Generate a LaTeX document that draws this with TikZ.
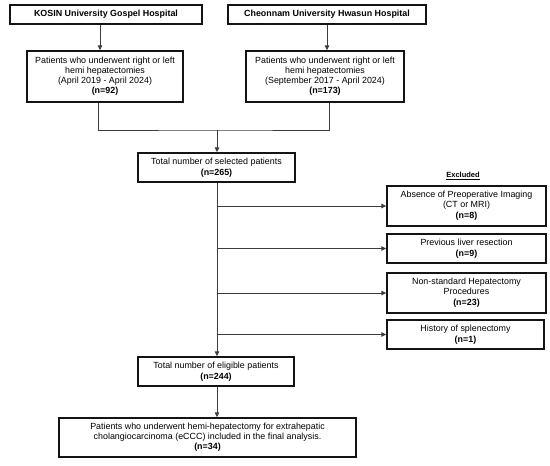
\documentclass[tikz,border=0pt]{standalone}
\usepackage{fontspec}
\setmainfont{Liberation Sans}
\usepackage{tikz}
\usetikzlibrary{arrows.meta,positioning}
\definecolor{boxline}{RGB}{20,20,20}
\definecolor{connline}{RGB}{60,60,60}

\begin{document}
\begin{tikzpicture}[
    x=1pt, y=-1pt,
    element/.style={draw=boxline, rectangle, line width=1.4pt, align=center, inner sep=1pt,
        font=\fontsize{8.9}{10}\selectfont},
    site/.style={element, minimum height=19pt, font=\fontsize{8.9}{10}\selectfont\bfseries},
    cohort/.style={element, minimum width=157pt},
    exclbox/.style={element, minimum width=159pt},
    line/.style={draw=connline, line width=0.9pt},
    arrow/.style={line, -{Triangle[length=5pt,width=4.5pt]}}
]
    \useasboundingbox (0,0) rectangle (550,466);

    % hospitals
    \node[site, minimum width=192pt] (kosin) at (106,14.5) {KOSIN University Gospel Hospital};
    \node[site, minimum width=198pt] (cnuh) at (327,14.5) {Cheonnam University Hwasun Hospital};

    \node[element, minimum width=156pt, minimum height=51pt] (lpat) at (105,76.5)
        {Patients who underwent right or left\\hemi hepatectomies\\(April 2019 - April 2024)\\\textbf{(n=92)}};
    \node[element, minimum width=158pt, minimum height=51pt] (rpat) at (325,76.5)
        {Patients who underwent right or left\\hemi hepatectomies\\(September 2017 - April 2024)\\\textbf{(n=173)}};

    % pooled cohort
    \coordinate (merge) at (217,130);
    \node[cohort, minimum height=29pt] (total) at (216.5,167.5)
        {Total number of selected patients\\[1pt]\textbf{(n=265)}};

    % exclusions
    \node[font=\fontsize{7.5}{9}\selectfont\bfseries] (exlabel) at (463,176) {\underline{Excluded}};
    \node[exclbox, minimum height=40pt] (ex1) at (466.5,206)
        {Absence of Preoperative Imaging\\(CT or MRI)\\[1pt]\textbf{(n=8)}};
    \node[exclbox, minimum height=29pt] (ex2) at (466.5,248.5)
        {Previous liver resection\\[1pt]\textbf{(n=9)}};
    \node[exclbox, minimum height=40pt] (ex3) at (466.5,293)
        {Non-standard Hepatectomy\\Procedures\\[1pt]\textbf{(n=23)}};
    \node[exclbox, minimum width=157pt, minimum height=29pt] (ex4) at (465.5,334.5)
        {History of splenectomy\\[1pt]\textbf{(n=1)}};

    \node[cohort, minimum width=156pt, minimum height=29pt] (elig) at (216,371.5)
        {Total number of eligible patients\\[1pt]\textbf{(n=244)}};
    \node[element, minimum width=297pt, minimum height=39pt] (final) at (207.5,437.5)
        {Patients who underwent hemi-hepatectomy for extrahepatic\\cholangiocarcinoma (eCCC) included in the final analysis.\\\textbf{(n=34)}};

    \draw[arrow] ([xshift=-6pt]kosin.south) -- ([xshift=-5pt]lpat.north);
    \draw[arrow] (cnuh.south) -- ([xshift=2pt]rpat.north);
    \draw[line] ([xshift=-7pt]lpat.south) |- (merge) -| ([xshift=4pt]rpat.south);
    \draw[arrow] (merge) -- (merge |- total.north);

    \foreach \ex in {ex1,ex2,ex3,ex4}
        \draw[arrow] (\ex.west -| merge) -- (\ex.west);
    \draw[arrow] (merge |- total.south) -- (merge |- elig.north);
    \draw[arrow] (merge |- elig.south) -- (merge |- final.north);
\end{tikzpicture}
\end{document}
